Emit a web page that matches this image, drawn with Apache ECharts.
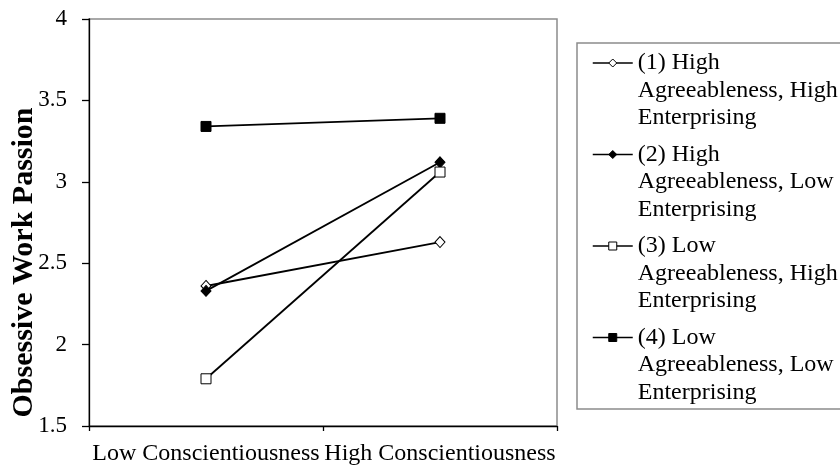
<!DOCTYPE html>
<html>
<head>
<meta charset="utf-8">
<script src="https://cdn.jsdelivr.net/npm/echarts@6/dist/echarts.min.js"></script>
<style>html,body{margin:0;padding:0;background:#fff;}#c{width:840px;height:468px;}</style>
</head>
<body>
<div id="c"></div>
<script>
var categories = ['Low Conscientiousness', 'High Conscientiousness'];
var seriesNames = [
  '(1) High\nAgreeableness, High\nEnterprising',
  '(2) High\nAgreeableness, Low\nEnterprising',
  '(3) Low\nAgreeableness, High\nEnterprising',
  '(4) Low\nAgreeableness, Low\nEnterprising'
];
var s1 = [2.36, 2.63];
var s2 = [2.33, 3.12];
var s3 = [1.79, 3.06];
var s4 = [3.34, 3.39];
var yTicks = [1.5, 2, 2.5, 3, 3.5, 4];

var FONT = "'Liberation Serif', 'Times New Roman', serif";
var marks = [
  {data: s1, symbol: 'diamond', size: [10, 11], fill: '#fff'},
  {data: s2, symbol: 'diamond', size: [10, 11], fill: '#000'},
  {data: s3, symbol: 'rect', size: 10, fill: '#fff'},
  {data: s4, symbol: 'rect', size: 10, fill: '#000'}
];

var chart = echarts.init(document.getElementById('c'), null, {renderer: 'canvas'});
var LH = 27.5;
chart.setOption({
  animation: false,
  backgroundColor: '#fff',
  grid: {left: 89, right: 283, top: 19, bottom: 42, show: true, borderColor: '#8c8c8c', borderWidth: 1.5,
         backgroundColor: 'transparent', containLabel: false, outerBoundsMode: 'none'},
  graphic: [{
    type: 'rect', silent: true,
    shape: {x: 577, y: 43, width: 300, height: 366},
    style: {fill: 'none', stroke: '#8c8c8c', lineWidth: 1.5}
  }],
  legend: {
    orient: 'vertical',
    left: 592, top: -5.75,
    padding: 0,
    height: 600,
    itemWidth: 40, itemHeight: 10,
    itemGap: 91.5 - 5 * LH,
    selectedMode: false,
    itemStyle: {borderWidth: 1, borderColor: '#000'},
    lineStyle: {color: '#000', width: 1.5},
    formatter: function (name) { return '\n\n' + name; },
    textStyle: {fontFamily: FONT, fontSize: 24, color: '#000', lineHeight: LH},
    data: seriesNames
  },
  xAxis: {
    type: 'category',
    data: categories,
    boundaryGap: true,
    axisLine: {lineStyle: {color: '#000', width: 1.3}},
    axisTick: {show: true, length: 5, inside: false, lineStyle: {color: '#000', width: 1.3}},
    axisLabel: {fontFamily: FONT, fontSize: 24, color: '#000', margin: 16, interval: 0},
    splitLine: {show: false}
  },
  yAxis: {
    type: 'value',
    min: yTicks[0], max: yTicks[yTicks.length - 1], interval: 0.5,
    name: 'Obsessive Work Passion',
    nameLocation: 'middle',
    nameRotate: 90,
    nameGap: 50,
    nameMoveOverlap: false,
    nameTextStyle: {fontFamily: FONT, fontSize: 30, fontWeight: 'bold', color: '#000', padding: [0, 80, 0, 0]},
    axisLine: {show: true, lineStyle: {color: '#000', width: 1.3}},
    axisTick: {show: true, length: 7, inside: false, lineStyle: {color: '#000', width: 1.3}},
    axisLabel: {fontFamily: FONT, fontSize: 23, color: '#000', margin: 22},
    splitLine: {show: false}
  },
  series: marks.map(function (m, i) {
    return {
      name: seriesNames[i],
      type: 'line',
      data: m.data,
      symbol: m.symbol,
      symbolSize: m.size,
      showSymbol: true,
      lineStyle: {color: '#000', width: 1.8},
      itemStyle: {color: m.fill, borderColor: '#000', borderWidth: 1},
      emphasis: {disabled: true},
      silent: true,
      z: 3
    };
  })
});
</script>
</body>
</html>
